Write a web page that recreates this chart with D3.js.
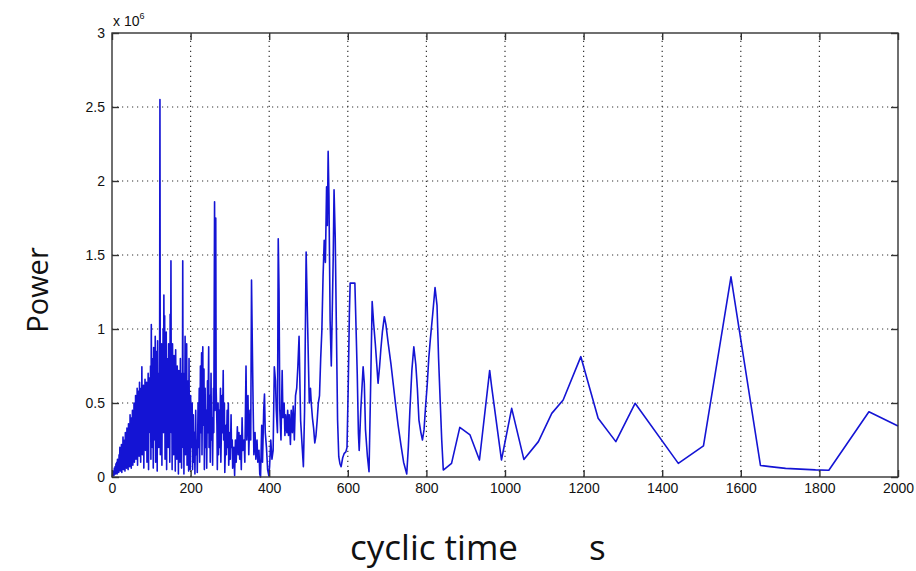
<!DOCTYPE html>
<html>
<head>
<meta charset="utf-8">
<script src="https://cdn.jsdelivr.net/npm/d3@7"></script>
<style>
body { margin: 0; background: #fff; }
svg { display: block; }
</style>
</head>
<body>
<svg width="916" height="571"></svg>
<script>
// tick values (power is in units of 10^6)
let xTicks = [0, 200, 400, 600, 800, 1000, 1200, 1400, 1600, 1800, 2000];
let yTicks = [0, 0.5, 1, 1.5, 2, 2.5, 3];

// [cyclic time (s), power (x10^6)]
let spectrum = [
	[0,0],[1,0.005],[2,0.03],[3,0.01],[4,0.04],[5,0.01],[6,0.06],[7,0.02],[8,0.07],[9,0.02],
	[10,0.09],[11,0.03],[12,0.1],[13,0.02],[14,0.12],[15,0.04],[16,0.1],[17,0.03],[18,0.15],[19,0.05],
	[20,0.2],[21,0.04],[22,0.17],[23,0.06],[24,0.22],[25,0.03],[26,0.19],[27,0.07],[28,0.27],[29,0.05],
	[30,0.22],[31,0.08],[32,0.25],[33,0.04],[34,0.3],[35,0.09],[36,0.26],[37,0.06],[38,0.33],[39,0.1],
	[40,0.28],[41,0.05],[42,0.36],[43,0.12],[44,0.3],[45,0.07],[46,0.42],[47,0.14],[48,0.35],[49,0.06],
	[50,0.4],[51,0.15],[52,0.45],[53,0.08],[54,0.38],[55,0.18],[56,0.5],[57,0.1],[58,0.42],[59,0.2],
	[60,0.55],[61,0.12],[62,0.47],[63,0.22],[64,0.6],[65,0.08],[66,0.5],[67,0.25],[68,0.58],[69,0.14],
	[70,0.64],[71,0.28],[72,0.52],[73,0.1],[74,0.6],[75,0.3],[76,0.745],[77,0.15],[78,0.55],[79,0.32],
	[80,0.62],[81,0.06],[82,0.58],[83,0.3],[84,0.66],[85,0.18],[86,0.5],[87,0.35],[88,0.64],[89,0.1],
	[90,0.6],[91,0.38],[92,0.7],[93,0.05],[94,0.67],[95,0.3],[96,0.6],[97,0.4],[98,0.75],[99,0.12],
	[100,1.03],[101,0.35],[102,0.7],[103,0.2],[104,0.8],[105,0.06],[106,0.875],[107,0.4],[108,0.65],[109,0.25],
	[110,0.95],[111,0.1],[112,0.72],[113,0.45],[114,0.85],[115,0.04],[116,0.92],[117,0.38],[118,0.7],[119,0.2],
	[120,0.6],[121,0.45],[122,2.55],[123,0.15],[124,0.8],[125,0.5],[126,0.9],[127,0.08],[128,0.7],[129,0.42],
	[130,1],[131,0.3],[132,1.23],[133,0.55],[134,1.09],[135,0.12],[136,0.75],[137,0.5],[138,0.98],[139,0.05],
	[140,0.8],[141,0.4],[142,0.7],[143,0.2],[144,0.9],[145,0.5],[146,0.85],[147,0.1],[148,1.1],[149,0.45],
	[150,1.46],[151,0.3],[152,0.8],[153,0.05],[154,0.9],[155,0.5],[156,0.7],[157,0.15],[158,0.82],[159,0.35],
	[160,0.65],[161,0.04],[162,0.86],[163,0.4],[164,0.6],[165,0.12],[166,0.75],[167,0.3],[168,0.55],[169,0.02],
	[170,0.72],[171,0.35],[172,0.5],[173,0.1],[174,0.8],[175,0.25],[176,0.62],[177,0.06],[178,0.7],[179,0.3],
	[180,1.46],[181,0.2],[182,0.7],[183,0.02],[184,0.6],[185,0.3],[186,0.95],[187,0.15],[188,0.6],[189,0.35],
	[190,0.9],[191,0.08],[192,0.65],[193,0.3],[194,0.45],[195,0.04],[196,0.8],[197,0.25],[198,0.5],[199,0.05],
	[200,0.55],[202,0.2],[204,0.5],[205,0.05],[207,0.42],[208,0.1],[210,0.3],[211,0.02],[213,0.45],
	[214,0.15],[216,0.25],[217,0.03],[219,0.5],[220,0.2],[222,0.6],[223,0.1],[225,0.75],[226,0.3],[228,0.84],
	[229,0.15],[231,0.88],[232,0.35],[234,0.73],[235,0.05],[237,0.6],[238,0.2],[240,0.45],[241,0.06],[243,0.65],
	[244,0.3],[246,0.88],[247,0.2],[249,0.55],[250,0.1],[252,0.7],[253,0.25],[255,0.4],[256,0.08],[258,0.6],
	[259,0.3],[261,1.86],[262,0.45],[264,1.75],[265,0.6],[267,0.35],[268,0.05],[270,0.5],[271,0.15],[273,0.45],
	[274,0.2],[276,0.6],[277,0.1],[280,0.55],[281,0.3],[283,0.72],[284,0.25],[286,0.5],[287,0.03],[290,0.35],
	[291,0.15],[293,0.45],[294,0.2],[296,0.5],[297,0.08],[300,0.3],[301,0.12],[303,0.42],[304,0.2],[306,0.25],
	[307,0.06],[310,0.2],[312,0.01],[314,0.25],[316,0.1],[319,0.34],[321,0.15],[323,0.3],[325,0.12],[327,0.28],
	[329,0.05],[331,0.4],[333,0.18],[336,0.25],[338,0.1],[341,0.75],[343,0.25],[346,0.55],[348,0.15],[351,0.45],
	[353,0.25],[355,1.33],[357,0.9],[359,0.5],[361,0.15],[364,0.3],[366,0.12],[369,0.25],[371,0.1],[374,0.18],
	[376,0.02],[378,0],[381,0.35],[383,0.1],[386,0.45],[388,0.56],[390,0.3],[393,0.2],[396,0.05],[399,0.01],
	[401,0.07],[404,0.25],[407,0.12],[410,0.18],[413,0.745],[416,0.65],[418,0.45],[421,0.3],[423,1.61],[425,1.26],
	[427,0.45],[430,0.25],[433,0.72],[435,0.4],[438,0.5],[440,0.28],[442,0.42],[445,0.3],[447,0.45],[449,0.28],
	[451,0.42],[454,0.22],[456,0.45],[459,0.3],[461,0.48],[464,0.25],[467,0.55],[470,0.6],[473,0.75],[476,0.95],
	[478,0.65],[480,0.38],[484,0.2],[487,0.07],[490,0.45],[494,1.52],[496,1.26],[498,1],[500,0.75],[502,0.5],
	[505,0.6],[507,0.5],[510,0.4],[513,0.33],[516,0.23],[519,0.28],[522,0.38],[525,0.5],[528,0.55],[531,0.8],
	[534,0.99],[537,1.35],[540,1.6],[543,1.45],[546,1.96],[548,1.7],[550,2.2],[552,1.9],[555,1.06],[558,0.75],
	[561,1.2],[563,1.5],[565,1.94],[568,1.62],[571,1],[574,0.385],[577,0.137],[580,0.09],[583,0.07],[587,0.13],
	[591,0.16],[595,0.17],[598,0.2],[601,0.6],[604,1.1],[606,1.31],[618,1.31],[620,1.11],[624,0.7],[627,0.295],
	[629,0.18],[633,0.45],[636,0.6],[639,0.745],[642,0.633],[645,0.32],[650,0.137],[654,0.036],[658,0.6],[662,1.185],
	[666,1.03],[670,0.9],[674,0.75],[677,0.633],[681,0.75],[684,0.86],[688,0.98],[693,1.083],[697,1.03],[703,0.9],
	[710,0.76],[716,0.62],[722,0.48],[728,0.35],[735,0.22],[742,0.1],[750,0.02],[754,0.2],[758,0.45],[763,0.72],
	[768,0.88],[773,0.76],[777,0.6],[781,0.385],[786,0.3],[790,0.25],[794,0.32],[798,0.48],[802,0.62],[806,0.8],
	[810,0.93],[816,1.1],[822,1.28],[827,1.16],[831,0.8],[835,0.52],[839,0.25],[843,0.047],[864,0.092],[885,0.335],
	[911,0.284],[935,0.115],[961,0.72],[966,0.61],[991,0.115],[1017,0.464],[1048,0.119],[1085,0.239],[1119,0.43],[1148,0.52],
	[1193,0.813],[1237,0.397],[1282,0.239],[1331,0.498],[1441,0.092],[1505,0.21],[1575,1.353],[1650,0.078],[1674,0.07],[1714,0.058],
	[1790,0.048],[1824,0.046],[1926,0.441],[2000,0.345]
];

let svg = d3.select("svg");
let width = 916, height = 571;
let margin = {top: 33, right: 18, bottom: 94, left: 112};

let x = d3.scaleLinear()
	.domain([0, 2000])
	.range([margin.left, width - margin.right]);

let y = d3.scaleLinear()
	.domain([0, 3])
	.range([height - margin.bottom, margin.top]);

let font = "'Liberation Sans', Arial, sans-serif";

// dotted grid
svg.append("g")
	.attr("stroke", "#333")
	.attr("stroke-width", 1.2)
	.attr("stroke-dasharray", "1.2,3.8")
	.call(g => g.selectAll(".vx").data(xTicks.slice(1, -1)).enter().append("line")
		.attr("x1", d => x(d)).attr("x2", d => x(d))
		.attr("y1", y(0)).attr("y2", y(3)))
	.call(g => g.selectAll(".hy").data(yTicks.slice(1, -1)).enter().append("line")
		.attr("y1", d => y(d)).attr("y2", d => y(d))
		.attr("x1", x(0)).attr("x2", x(2000)));

// spectrum
svg.append("path")
	.datum(spectrum)
	.attr("fill", "none")
	.attr("stroke", "#1414d4")
	.attr("stroke-width", 1.6)
	.attr("stroke-linejoin", "round")
	.attr("d", d3.line().x(d => x(d[0])).y(d => y(d[1])));

// box
svg.append("rect")
	.attr("x", x(0)).attr("y", y(3))
	.attr("width", x(2000) - x(0)).attr("height", y(0) - y(3))
	.attr("fill", "none")
	.attr("stroke", "#333")
	.attr("stroke-width", 1.4);

let styleAxis = g => g
	.attr("font-family", font)
	.attr("font-size", 14)
	.call(g => g.select(".domain").remove())
	.call(g => g.selectAll(".tick line").attr("stroke", "#333").attr("stroke-width", 1.4))
	.call(g => g.selectAll(".tick text").attr("fill", "#111"));

svg.append("g")
	.attr("transform", `translate(0,${y(0)})`)
	.call(d3.axisBottom(x).tickValues(xTicks).tickSize(-7).tickPadding(6).tickFormat(d3.format("d")))
	.call(styleAxis);

svg.append("g")
	.attr("transform", `translate(${x(0)},0)`)
	.call(d3.axisLeft(y).tickValues(yTicks).tickSize(-7).tickPadding(7).tickFormat(d => String(d)))
	.call(styleAxis);

svg.append("g")
	.attr("transform", `translate(0,${y(3)})`)
	.call(d3.axisTop(x).tickValues(xTicks).tickSize(-7).tickFormat(""))
	.call(styleAxis);

svg.append("g")
	.attr("transform", `translate(${x(2000)},0)`)
	.call(d3.axisRight(y).tickValues(yTicks).tickSize(-7).tickFormat(""))
	.call(styleAxis);

// exponent label
svg.append("text")
	.attr("x", x(0) + 1)
	.attr("y", 26)
	.attr("font-family", font)
	.attr("font-size", 14)
	.attr("fill", "#111")
	.text("x 10")
	.append("tspan")
	.attr("dy", -7)
	.attr("font-size", 9)
	.text("6");

// axis titles
svg.append("text")
	.attr("transform", "translate(48,290) rotate(-90)")
	.attr("text-anchor", "middle")
	.attr("font-family", "'Open Sans', sans-serif")
	.attr("font-size", 29)
	.attr("fill", "#111")
	.text("Power");

svg.append("text")
	.attr("x", 350)
	.attr("y", 560)
	.attr("font-family", "'Open Sans', sans-serif")
	.attr("font-size", 35)
	.attr("fill", "#111")
	.text("cyclic time")
	.append("tspan")
	.attr("x", 589)
	.text("s");
</script>
</body>
</html>
